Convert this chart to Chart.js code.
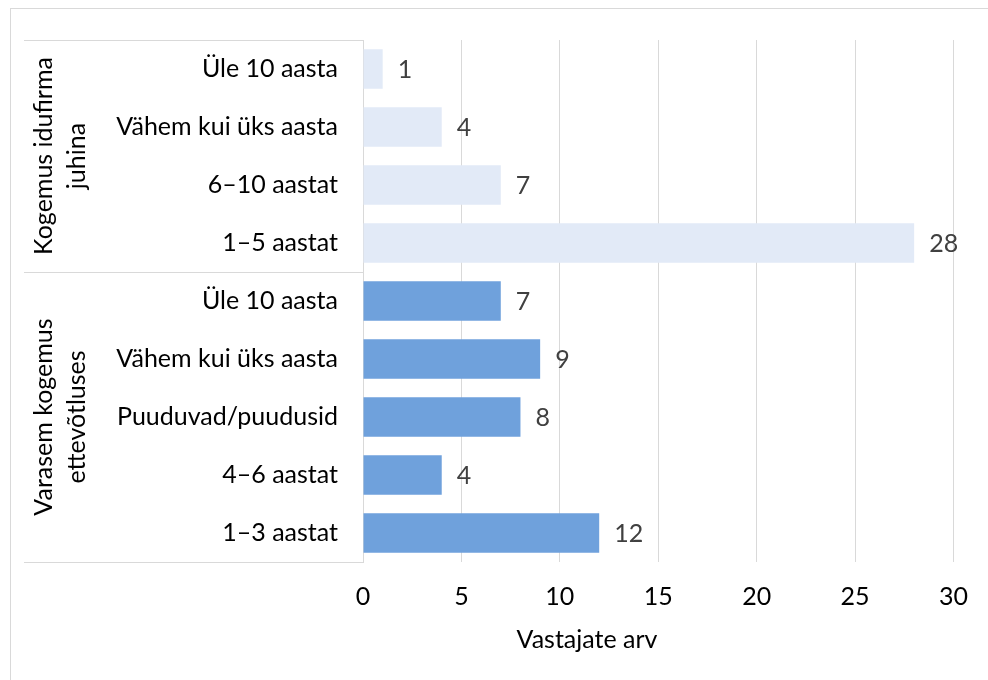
<!DOCTYPE html>
<html>
<head>
<meta charset="utf-8">
<script src="https://cdn.jsdelivr.net/npm/chart.js@4.4.1/dist/chart.umd.min.js"></script>
<style>
html,body{margin:0;padding:0;background:#fff;}
#wrap{width:988px;height:680px;position:relative;}
</style>
</head>
<body>
<div id="wrap"><canvas id="c" width="988" height="680"></canvas></div>
<script>
// ---- data ----
const categories = ['Üle 10 aasta','Vähem kui üks aasta','6–10 aastat','1–5 aastat','Üle 10 aasta','Vähem kui üks aasta','Puuduvad/puudusid','4–6 aastat','1–3 aastat'];
const values = [1,4,7,28,7,9,8,4,12];
const groupLines = [['Kogemus idufirma','juhina'],['Varasem kogemus','ettevõtluses']];
const groupSizes = [4,5];
const xTicks = [0,5,10,15,20,25,30];
const axisTitle = 'Vastajate arv';

const colorLight = '#E2EAF7';
const colorDark = '#6FA1DC';
const FONT = 'Lato';
const FS = 25;
const grid = '#D9D9D9';

const barColors = [];
groupSizes.forEach((n,gi)=>{for(let i=0;i<n;i++) barColors.push(gi===0?colorLight:colorDark);});

const decor = {
  id:'decor',
  beforeDraw(chart){
    const ctx=chart.ctx;
    ctx.save();
    ctx.fillStyle='#fff';
    ctx.fillRect(0,0,chart.width,chart.height);
    ctx.strokeStyle=grid; ctx.lineWidth=1;
    ctx.strokeRect(10.5,8.5,1000,700);
    ctx.restore();
  },
  afterDraw(chart){
    const ctx=chart.ctx, ys=chart.scales.y, ca=chart.chartArea;
    ctx.save();
    ctx.strokeStyle=grid; ctx.lineWidth=1;
    const x0=24, x1=ca.left;
    const lines=[ca.top];
    let idx=0;
    groupSizes.forEach((n,gi)=>{idx+=n; if(gi<groupSizes.length-1){lines.push((ys.getPixelForValue(idx-1)+ys.getPixelForValue(idx))/2);} });
    lines.push(ca.bottom);
    lines.forEach(y=>{ctx.beginPath();ctx.moveTo(x0,Math.round(y)+0.5);ctx.lineTo(x1,Math.round(y)+0.5);ctx.stroke();});
    // group labels
    ctx.fillStyle='#000';
    ctx.font=FS+'px '+FONT;
    ctx.textAlign='center'; ctx.textBaseline='middle';
    for(let g=0;g<groupSizes.length;g++){
      const cy=(lines[g]+lines[g+1])/2;
      const ls=groupLines[g];
      ls.forEach((t,i)=>{
        ctx.save();
        ctx.translate(44+i*33,cy);
        ctx.rotate(-Math.PI/2);
        ctx.fillText(t,0,0);
        ctx.restore();
      });
    }
    // axis title
    ctx.fillText(axisTitle,587,640);
    // data labels
    const meta=chart.getDatasetMeta(0);
    ctx.fillStyle='#404040';
    ctx.textAlign='left';
    meta.data.forEach((bar,i)=>{
      ctx.fillText(String(values[i]),bar.x+15,bar.y+1);
    });
    ctx.restore();
  }
};

new Chart(document.getElementById('c'),{
  type:'bar',
  data:{labels:categories,datasets:[{data:values,backgroundColor:barColors,borderWidth:0,barPercentage:0.68,categoryPercentage:1}]},
  options:{
    indexAxis:'y',
    responsive:false,
    animation:false,
    devicePixelRatio:1,
    layout:{padding:{top:38,right:31,left:0,bottom:0}},
    plugins:{legend:{display:false},tooltip:{enabled:false}},
    scales:{
      x:{
        min:0,max:30,
        afterBuildTicks(s){s.ticks=xTicks.map(v=>({value:v}));},
        afterFit(s){s.height=118;},
        grid:{color:grid,lineWidth:1,drawTicks:false},
        border:{display:false},
        ticks:{color:'#000',font:{family:FONT,size:FS},padding:20}
      },
      y:{
        afterFit(s){s.width=363;},
        grid:{display:false,drawTicks:false},
        border:{display:true,color:grid,width:1},
        ticks:{color:'#000',font:{family:FONT,size:FS},padding:25}
      }
    }
  },
  plugins:[decor]
});
</script>
</body>
</html>
